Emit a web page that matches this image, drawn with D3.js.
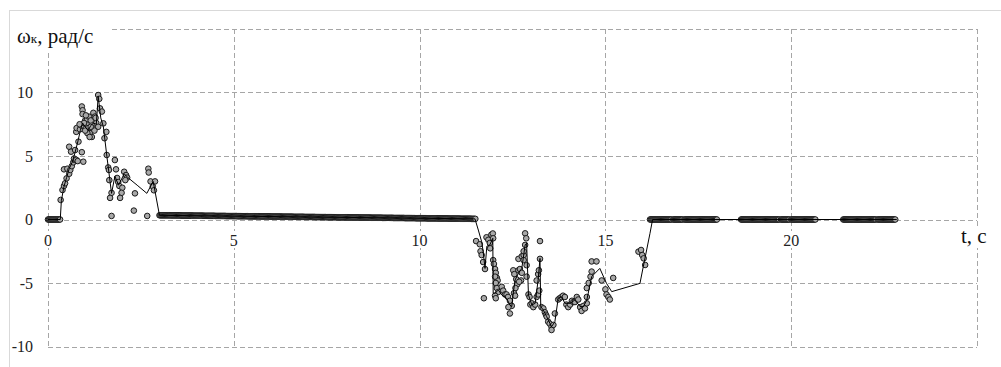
<!DOCTYPE html>
<html>
<head>
<meta charset="utf-8">
<script src="https://cdn.jsdelivr.net/npm/d3@7/dist/d3.min.js"></script>
<style>
  html, body { margin: 0; padding: 0; background: #fff; }
  svg { display: block; }
  svg text { font-family: "Liberation Serif", "Times New Roman", serif; }
</style>
</head>
<body>
<svg id="chart" width="1001" height="367"></svg>
<script>
// Axis ticks and grid positions
const xTicks = [0, 5, 10, 15, 20];
const yTicks = [-10, -5, 0, 5, 10];
const xGrid = [0, 5, 10, 15, 20, 25];
const yGrid = [-10, -5, 0, 5, 10, 15];

// Sample times with the wheel at rest (ω = 0) before start
const startRestTimes = [
  0.000,0.025,0.050,0.075,0.100,0.125,0.150,0.175,0.200,0.225,0.250,0.275,0.300,0.325
];

// Measured angular velocity samples [t, ω] — acceleration hump
const samplesRise = [
  [0.34,1.54],[0.39,2.32],[0.43,2.64],[0.46,2.85],[0.50,3.24],[0.43,3.95],[0.52,4.00],
  [0.57,3.60],[0.60,3.90],[0.64,4.20],[0.68,4.50],[0.71,4.70],[0.57,5.73],[0.62,5.34],
  [0.73,5.47],[0.70,4.80],[0.76,4.70],[0.80,4.60],[0.91,5.30],[0.95,4.55],[0.82,6.13],
  [0.76,6.90],[0.77,7.20],[0.86,7.10],[0.90,7.40],[0.91,8.90],[0.93,8.60],[0.93,8.30],
  [1.00,7.80],[1.04,7.50],[1.08,7.20],[1.13,6.80],[1.18,6.50],[1.06,6.80],[1.12,6.50],
  [1.22,8.40],[1.26,8.10],[1.30,7.60],[1.35,7.30],[1.35,9.80],[1.38,9.50],[1.40,8.75],
  [1.45,8.50],[1.49,7.57],[1.57,6.90],[1.52,6.40],
  [1.00,7.00],[1.05,7.90],[1.10,8.10],[1.15,7.80],[1.20,7.20],[1.25,7.00],[1.28,8.00],
  [1.15,7.30],[1.02,8.20],[0.97,7.60],[0.85,7.50]
];

// Measured samples — deceleration to hold
const samplesFall = [
  [1.58,5.08],[1.80,4.68],[1.62,4.10],[1.64,3.90],[1.83,3.95],[1.65,3.10],[1.86,3.27],
  [1.89,2.95],[1.92,2.64],[2.05,3.76],[2.10,3.50],[2.13,3.30],[2.08,3.10],[2.00,2.50],
  [1.98,2.10],[1.71,2.10],[1.67,1.70],[1.94,1.70],[2.34,2.06],[1.71,0.28],[2.31,0.70],
  [2.67,0.28],[2.70,4.00],[2.71,3.70],[2.76,3.00],[2.88,3.00],[2.82,2.60],[2.85,2.30]
];

// Measured samples — slow drift while holding
const samplesHold = [
  [3.000,.33],[3.025,.33],[3.050,.33],[3.075,.33],[3.100,.33],[3.125,.33],[3.150,.33],[3.175,.33],[3.200,.33],[3.225,.33],[3.250,.33],[3.275,.33],
  [3.300,.32],[3.325,.32],[3.350,.32],[3.375,.32],[3.400,.32],[3.425,.32],[3.450,.32],[3.475,.32],[3.500,.32],[3.525,.32],[3.550,.32],[3.575,.32],
  [3.600,.31],[3.625,.31],[3.650,.31],[3.675,.31],[3.700,.31],[3.725,.31],[3.750,.31],[3.775,.31],[3.800,.31],[3.825,.31],[3.850,.31],[3.875,.31],
  [3.900,.30],[3.925,.30],[3.950,.30],[3.975,.30],[4.000,.30],[4.025,.30],[4.050,.30],[4.075,.30],[4.100,.30],[4.125,.30],[4.150,.30],[4.175,.30],
  [4.200,.29],[4.225,.29],[4.250,.29],[4.275,.29],[4.300,.29],[4.325,.29],[4.350,.29],[4.375,.29],[4.400,.29],[4.425,.29],[4.450,.29],[4.475,.29],
  [4.500,.28],[4.525,.28],[4.550,.28],[4.575,.28],[4.600,.28],[4.625,.28],[4.650,.28],[4.675,.28],[4.700,.28],[4.725,.28],[4.750,.28],[4.775,.28],
  [4.800,.27],[4.825,.27],[4.850,.27],[4.875,.27],[4.900,.27],[4.925,.27],[4.950,.27],[4.975,.27],[5.000,.27],[5.025,.27],[5.050,.27],[5.075,.27],
  [5.100,.26],[5.125,.26],[5.150,.26],[5.175,.26],[5.200,.26],[5.225,.26],[5.250,.26],[5.275,.26],[5.300,.26],[5.325,.26],[5.350,.26],[5.375,.26],
  [5.400,.25],[5.425,.25],[5.450,.25],[5.475,.25],[5.500,.25],[5.525,.25],[5.550,.25],[5.575,.25],[5.600,.25],[5.625,.25],[5.650,.25],[5.675,.25],
  [5.700,.24],[5.725,.24],[5.750,.24],[5.775,.24],[5.800,.24],[5.825,.24],[5.850,.24],[5.875,.24],[5.900,.24],[5.925,.24],[5.950,.24],[5.975,.24],
  [6.000,.23],[6.025,.23],[6.050,.23],[6.075,.23],[6.100,.23],[6.125,.23],[6.150,.23],[6.175,.23],[6.200,.23],[6.225,.23],[6.250,.23],[6.275,.23],
  [6.300,.22],[6.325,.22],[6.350,.22],[6.375,.22],[6.400,.22],[6.425,.22],[6.450,.22],[6.475,.22],[6.500,.22],[6.525,.22],[6.550,.22],[6.575,.22],
  [6.600,.21],[6.625,.21],[6.650,.21],[6.675,.21],[6.700,.21],[6.725,.21],[6.750,.21],[6.775,.21],[6.800,.21],[6.825,.21],[6.850,.21],[6.875,.21],
  [6.900,.20],[6.925,.20],[6.950,.20],[6.975,.20],[7.000,.20],[7.025,.20],[7.050,.20],[7.075,.20],[7.100,.20],[7.125,.20],[7.150,.20],[7.175,.20],
  [7.200,.19],[7.225,.19],[7.250,.19],[7.275,.19],[7.300,.19],[7.325,.19],[7.350,.19],[7.375,.19],[7.400,.19],[7.425,.19],[7.450,.19],[7.475,.19],
  [7.500,.18],[7.525,.18],[7.550,.18],[7.575,.18],[7.600,.18],[7.625,.18],[7.650,.18],[7.675,.18],[7.700,.18],[7.725,.18],[7.750,.18],[7.775,.18],
  [7.800,.17],[7.825,.17],[7.850,.17],[7.875,.17],[7.900,.17],[7.925,.17],[7.950,.17],[7.975,.17],[8.000,.17],[8.025,.17],[8.050,.17],[8.075,.17],
  [8.100,.16],[8.125,.16],[8.150,.16],[8.175,.16],[8.200,.16],[8.225,.16],[8.250,.16],[8.275,.16],[8.300,.16],[8.325,.16],[8.350,.16],[8.375,.16],
  [8.400,.15],[8.425,.15],[8.450,.15],[8.475,.15],[8.500,.15],[8.525,.15],[8.550,.15],[8.575,.15],[8.600,.15],[8.625,.15],[8.650,.15],[8.675,.15],
  [8.700,.14],[8.725,.14],[8.750,.14],[8.775,.14],[8.800,.14],[8.825,.14],[8.850,.14],[8.875,.14],[8.900,.14],[8.925,.14],[8.950,.14],[8.975,.14],
  [9.000,.13],[9.025,.13],[9.050,.13],[9.075,.13],[9.100,.13],[9.125,.13],[9.150,.13],[9.175,.13],[9.200,.13],[9.225,.13],[9.250,.13],[9.275,.13],
  [9.300,.12],[9.325,.12],[9.350,.12],[9.375,.12],[9.400,.12],[9.425,.12],[9.450,.12],[9.475,.12],[9.500,.12],[9.525,.12],[9.550,.12],[9.575,.12],
  [9.600,.11],[9.625,.11],[9.650,.11],[9.675,.11],[9.700,.11],[9.725,.11],[9.750,.11],[9.775,.11],[9.800,.11],[9.825,.11],[9.850,.11],[9.875,.11],
  [9.900,.10],[9.925,.10],[9.950,.10],[9.975,.10],[10.000,.10],[10.025,.10],[10.050,.10],[10.075,.10],[10.100,.10],[10.125,.10],[10.150,.10],[10.175,.10],
  [10.200,.09],[10.225,.09],[10.250,.09],[10.275,.09],[10.300,.09],[10.325,.09],[10.350,.09],[10.375,.09],[10.400,.09],[10.425,.09],[10.450,.09],[10.475,.09],
  [10.500,.08],[10.525,.08],[10.550,.08],[10.575,.08],[10.600,.08],[10.625,.08],[10.650,.08],[10.675,.08],[10.700,.08],[10.725,.08],[10.750,.08],[10.775,.08],
  [10.800,.07],[10.825,.07],[10.850,.07],[10.875,.07],[10.900,.07],[10.925,.07],[10.950,.07],[10.975,.07],[11.000,.07],[11.025,.07],[11.050,.07],[11.075,.07],
  [11.100,.06],[11.125,.06],[11.150,.06],[11.175,.06],[11.200,.06],[11.225,.06],[11.250,.06],[11.275,.06],[11.300,.06],[11.325,.06],[11.350,.06],[11.375,.06],
  [11.400,.05],[11.425,.05],[11.450,.05],[11.475,.05],[11.500,.05]
];

// Measured samples — reverse rotation
const samplesReverse = [
  [11.52,-1.70],[11.62,-1.95],[11.64,-2.50],[11.67,-2.80],[11.71,-3.35],[11.76,-3.90],
  [11.73,-6.20],[11.80,-1.40],[11.85,-1.60],[11.89,-1.85],[11.93,-1.20],[11.97,-1.10],
  [11.98,-1.48],[11.90,-2.27],
  [11.98,-3.20],[12.00,-3.50],[12.03,-3.90],[12.05,-4.20],[12.08,-4.60],[12.10,-4.80],
  [12.03,-4.50],[12.05,-5.00],[12.08,-5.40],[12.12,-5.70],[12.03,-6.00],[12.05,-6.20],
  [12.21,-5.30],[12.25,-5.60],[12.30,-5.90],[12.34,-5.90],[12.38,-6.10],[12.43,-6.40],
  [12.48,-6.80],[12.43,-7.40],[12.39,-6.90],
  [12.52,-4.00],[12.55,-4.30],[12.60,-4.70],[12.63,-5.10],[12.58,-5.40],[12.54,-5.80],
  [12.57,-6.00],
  [12.66,-4.00],[12.70,-3.90],[12.75,-4.20],[12.73,-4.80],[12.68,-4.90],
  [12.66,-3.10],[12.75,-2.90],[12.80,-2.80],[12.80,-3.20],
  [12.84,-1.09],[12.87,-1.48],[12.84,-2.00],[12.80,-2.50],[12.88,-3.60],[12.88,-4.50],
  [12.93,-5.90],[12.96,-6.10],[12.98,-6.70],[13.02,-6.60],[13.06,-6.90],[13.11,-6.70],
  [13.15,-6.10],[13.19,-5.90],[13.22,-5.60],[13.15,-4.80],[13.19,-4.30],[13.21,-4.00],
  [13.24,-3.10],[13.24,-1.70],
  [13.28,-6.90],[13.33,-7.00],[13.37,-7.30],[13.40,-7.50],[13.42,-7.65],[13.46,-8.05],
  [13.50,-8.20],[13.55,-8.45],[13.60,-8.30],[13.55,-8.70],[13.64,-7.40],
  [13.73,-6.30],[13.77,-6.20],[13.82,-6.10],[13.86,-6.00],[13.91,-6.10],[13.95,-6.70],
  [14.00,-6.90],[14.05,-6.70],[14.10,-6.40],[14.14,-6.50],[14.18,-6.50],[14.23,-6.10],
  [14.27,-6.30],[14.32,-6.90],[14.36,-7.20],[14.41,-6.80],[14.45,-7.00],[14.50,-6.60],
  [14.50,-6.10],
  [14.50,-5.40],[14.55,-5.00],[14.60,-4.50],[14.63,-4.10],[14.63,-3.30],[14.76,-3.30],
  [14.90,-4.80],[15.00,-5.50],[15.03,-5.90],[15.08,-6.10],[15.12,-6.30],[15.21,-4.60],
  [15.89,-2.53],[15.96,-2.40],[15.99,-2.80],[16.03,-3.06],[16.07,-3.58]
];

// Sample times with the wheel at rest (ω = 0) after stopping
const endRestTimes = [
  16.200,16.225,16.250,16.275,16.300,16.325,16.350,16.375,16.400,16.425,16.450,16.475,
  16.500,16.525,16.550,16.575,16.600,16.625,16.650,16.675,16.700,16.725,16.750,16.775,
  16.825,16.850,16.875,16.900,16.925,16.950,16.975,17.000,17.025,17.050,17.075,
  17.125,17.150,17.175,17.200,17.225,17.250,17.275,17.300,17.325,17.350,17.375,
  17.400,17.425,17.450,17.475,17.500,17.525,17.550,17.575,17.600,17.625,17.650,17.675,
  17.700,17.725,17.750,17.775,17.800,17.825,17.850,17.875,17.900,17.925,17.950,17.975,18.000,
  18.650,18.675,18.700,18.725,18.750,18.775,18.800,18.825,18.850,18.875,18.900,18.925,
  18.950,18.975,19.000,19.025,19.050,19.075,19.100,19.125,19.150,19.175,19.200,19.225,
  19.250,19.275,19.300,19.325,19.350,19.375,19.400,19.425,19.450,19.475,19.500,19.525,
  19.550,19.575,19.600,19.625,19.650,19.675,19.725,19.750,19.775,19.800,19.825,19.850,
  19.875,19.900,19.925,19.950,20.000,20.025,20.050,20.075,20.100,20.125,20.150,20.175,
  20.200,20.225,20.250,20.275,20.300,20.325,20.350,20.375,20.400,20.425,20.450,20.475,
  20.500,20.525,20.550,20.575,20.600,20.625,20.650,
  21.400,21.425,21.450,21.475,21.500,21.525,21.550,21.575,21.600,21.625,21.650,21.675,
  21.700,21.725,21.750,21.775,21.800,21.825,21.850,21.875,21.900,21.925,21.950,21.975,
  22.000,22.025,22.050,22.075,22.100,22.125,22.150,22.175,22.200,22.225,22.250,22.275,
  22.325,22.350,22.375,22.400,22.425,22.450,22.475,22.500,22.525,22.550,22.575,22.600,
  22.625,22.650,22.675,22.700,22.725,22.750,22.775,22.800
];

// Model response curve [t, ω]
const modelCurve = [
  [0.00,0],[0.33,0],[0.36,1.50],[0.43,2.60],[0.50,3.30],[0.57,4.00],[0.65,4.50],
  [0.73,5.30],[0.80,6.10],[0.87,7.00],[0.93,7.60],[1.00,7.30],[1.08,7.00],[1.15,7.40],
  [1.22,7.60],[1.30,7.50],[1.35,9.70],[1.42,8.00],[1.49,7.30],[1.58,5.08],[1.71,2.06],
  [1.80,3.40],[1.90,2.70],[2.05,3.60],[2.15,3.30],[2.40,2.70],[2.66,2.06],[2.83,3.00],
  [3.00,0.33],[11.49,0.05],
  [11.58,-0.83],[11.67,-1.75],[11.71,-2.50],[11.76,-3.85],[11.81,-2.10],[11.89,-2.00],
  [11.97,-1.48],[11.98,-5.80],[12.03,-5.80],[12.12,-5.55],[12.21,-5.94],[12.34,-6.20],
  [12.43,-6.73],[12.48,-6.86],[12.52,-5.80],[12.57,-4.76],[12.66,-4.24],[12.75,-3.85],
  [12.84,-2.00],[12.88,-1.87],[12.93,-5.94],[13.02,-6.73],[13.11,-6.60],[13.19,-4.76],
  [13.24,-3.06],[13.26,-6.86],[13.33,-7.13],[13.42,-7.65],[13.55,-8.44],[13.64,-8.05],
  [13.73,-6.20],[13.82,-6.08],[13.91,-6.60],[14.05,-6.60],[14.18,-6.34],[14.32,-6.86],
  [14.41,-6.86],[14.50,-6.34],[14.63,-4.50],[14.85,-3.85],[15.03,-5.03],[15.17,-5.68],
  [15.93,-5.03],[16.02,-3.70],[16.11,-2.40],[16.20,-1.09],[16.27,0],[22.84,0]
];

const svg = d3.select("#chart");
const W = 1001, H = 367;

const x = d3.scaleLinear().domain([0, 25]).range([48, 977]);
const y = d3.scaleLinear().domain([-10, 15]).range([346.5, 29]);
const crisp = v => Math.round(v) + 0.5;

// outer frame
svg.append("rect")
  .attr("x", 9.5).attr("y", 10.5)
  .attr("width", W).attr("height", H)
  .attr("fill", "none").attr("stroke", "#d9d9d9").attr("stroke-width", 1);

// dashed grid
const grid = svg.append("g")
  .attr("stroke", "#a6a6a6").attr("stroke-width", 1)
  .attr("stroke-dasharray", "5,3").attr("fill", "none");
grid.selectAll("line.h").data(yGrid).join("line").attr("class", "h")
  .attr("x1", x(0)).attr("x2", x(25))
  .attr("y1", d => crisp(y(d))).attr("y2", d => crisp(y(d)));
grid.selectAll("line.v").data(xGrid).join("line").attr("class", "v")
  .attr("x1", d => crisp(x(d))).attr("x2", d => crisp(x(d)))
  .attr("y1", y(15)).attr("y2", y(-10));

// y tick labels
svg.append("g").selectAll("text").data(yTicks).join("text")
  .attr("x", 33).attr("y", d => y(d))
  .attr("dy", "0.35em")
  .attr("text-anchor", "end")
  .attr("font-size", 16).attr("fill", "#222")
  .text(d => d);

// x tick labels placed under the zero line, masking the grid behind them
const xl = svg.append("g");
xl.selectAll("rect").data(xTicks).join("rect")
  .attr("x", d => x(d) - (d >= 10 ? 9 : 5)).attr("y", 231)
  .attr("width", d => d >= 10 ? 18 : 10).attr("height", 17)
  .attr("fill", "#fff");
xl.selectAll("text").data(xTicks).join("text")
  .attr("x", d => x(d)).attr("y", 246)
  .attr("text-anchor", "middle")
  .attr("font-size", 16).attr("fill", "#222")
  .text(d => d);

// axis titles
svg.append("rect").attr("x", 12).attr("y", 20).attr("width", 98).attr("height", 30).attr("fill", "#fff");
const yTitle = svg.append("text")
  .attr("x", 17).attr("y", 43)
  .attr("font-size", 21).attr("fill", "#111");
yTitle.append("tspan").text("ω");
yTitle.append("tspan").attr("font-size", 13).text("к");
yTitle.append("tspan").text(", рад/с");

svg.append("rect").attr("x", 959).attr("y", 226).attr("width", 32).attr("height", 22).attr("fill", "#fff");
svg.append("text")
  .attr("x", 961).attr("y", 243)
  .attr("font-size", 21).attr("fill", "#111")
  .text("t, c");

// measured samples
const samples = [].concat(
  startRestTimes.map(t => [t, 0]),
  samplesRise, samplesFall, samplesHold, samplesReverse,
  endRestTimes.map(t => [t, 0])
);
svg.append("g").selectAll("circle").data(samples).join("circle")
  .attr("cx", d => x(d[0])).attr("cy", d => y(d[1]))
  .attr("r", 2.8)
  .attr("fill", "#a8a8a8").attr("stroke", "#1a1a1a").attr("stroke-width", 1);

// model curve
svg.append("path")
  .datum(modelCurve)
  .attr("d", d3.line().x(d => x(d[0])).y(d => y(d[1])))
  .attr("fill", "none").attr("stroke", "#000").attr("stroke-width", 1);
</script>
</body>
</html>
